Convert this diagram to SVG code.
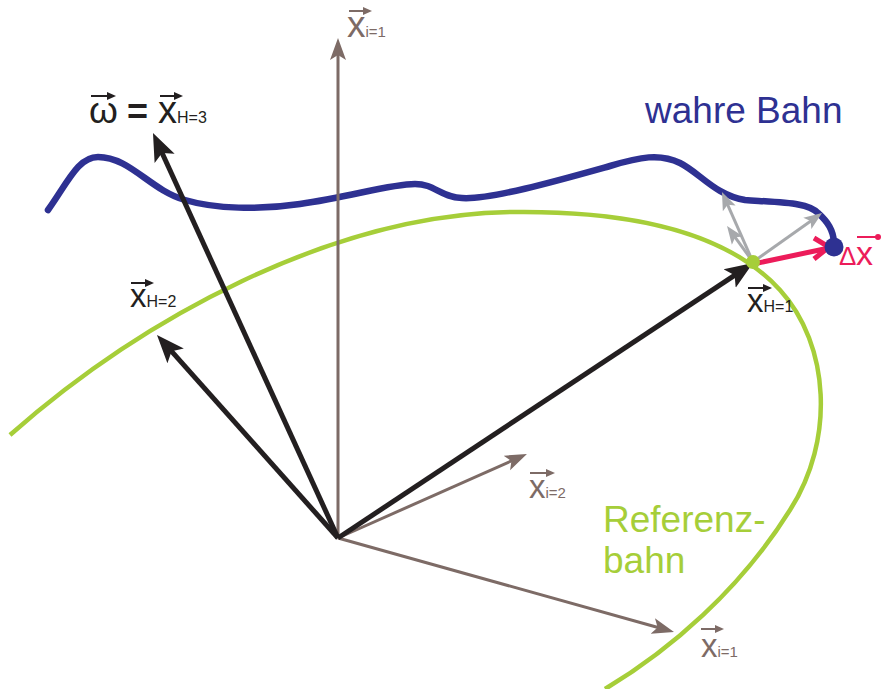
<svg xmlns="http://www.w3.org/2000/svg" width="883" height="689" viewBox="0 0 883 689">
<style>
text{font-family:"Liberation Sans",Arial,sans-serif}
.blk{fill:#231f20}.brn{fill:#7d6b66}.red{fill:#ec1c5a}
.v{font-size:33px}.s{font-size:15px}
.ab{stroke:#231f20;stroke-width:5;fill:none}
.ar{stroke:#7d6b66;stroke-width:3;fill:none}
.ag{stroke:#a7a9ac;stroke-width:3;fill:none}
.ov{stroke-width:2;fill:none}
</style>
<defs>
<marker id="mb" markerUnits="userSpaceOnUse" viewBox="0 -12 30 24" markerWidth="30" markerHeight="24" refX="14" refY="0" orient="auto"><path d="M0,-11 L28,0 L0,11 L6,0 z" fill="#231f20"/></marker>
<marker id="mr" markerUnits="userSpaceOnUse" viewBox="0 -9 24 18" markerWidth="24" markerHeight="18" refX="11" refY="0" orient="auto"><path d="M0,-8 L22,0 L0,8 L5,0 z" fill="#7d6b66"/></marker>
<marker id="mg" markerUnits="userSpaceOnUse" viewBox="0 -8 20 16" markerWidth="20" markerHeight="16" refX="9" refY="0" orient="auto"><path d="M0,-7 L18,0 L0,7 L4,0 z" fill="#a7a9ac"/></marker>
<marker id="vk" markerUnits="userSpaceOnUse" viewBox="0 -4 9 8" markerWidth="9" markerHeight="8" refX="3" refY="0" orient="auto"><path d="M0,-4 L9,0 L0,4 z" fill="#231f20"/></marker>
<marker id="vb" markerUnits="userSpaceOnUse" viewBox="0 -4 9 8" markerWidth="9" markerHeight="8" refX="3" refY="0" orient="auto"><path d="M0,-4 L9,0 L0,4 z" fill="#7d6b66"/></marker>
<marker id="vr" markerUnits="userSpaceOnUse" viewBox="-4 -4 8 8" markerWidth="8" markerHeight="8" refX="0" refY="0" orient="auto"><circle r="3" fill="#ec1c5a"/></marker>
</defs>

<g id="referenzbahn">
<path d="M10,435 C140,320 330,215 510,212 C640,210 730,235 780,290 C830,345 835,440 790,510 C740,590 670,650 605,689" fill="none" stroke="#a6ce39" stroke-width="4.5"/>
<text x="603" y="532" font-size="37" fill="#a6ce39">Referenz-</text>
<text x="603" y="573" font-size="37" fill="#a6ce39">bahn</text>
</g>

<g id="wahre-bahn">
<path d="M48,210 C68,182 78,157 98,157 C130,157 150,190 185,200 C215,209 260,210 300,204 C350,197 390,184 415,184 C435,184 440,197 462,198 C490,200 560,180 610,166 C640,157 660,153 680,163 C700,173 715,195 745,200 C790,203 808,203 818,213 C828,222 833,230 834,242" fill="none" stroke="#2e3192" stroke-width="6.5" stroke-linecap="round"/>
<text x="645" y="123" font-size="37" fill="#2e3192">wahre Bahn</text>
</g>

<g id="connectors">
<line class="ar" x1="338" y1="538" x2="338" y2="49" marker-end="url(#mr)"/>
<line class="ar" x1="338" y1="538" x2="516.9" y2="458.5" marker-end="url(#mr)"/>
<line class="ar" x1="338" y1="538" x2="663.4" y2="629" marker-end="url(#mr)"/>
<line class="ab" x1="338" y1="538" x2="158.8" y2="145.7" marker-end="url(#mb)"/>
<line class="ab" x1="338" y1="538" x2="166.3" y2="345.4" marker-end="url(#mb)"/>
<line class="ab" x1="338" y1="538" x2="741.3" y2="270.8" marker-end="url(#mb)"/>
<line class="ag" x1="753" y1="262" x2="725.6" y2="200.2" marker-end="url(#mg)"/>
<line class="ag" x1="753" y1="262" x2="732.3" y2="233.3" marker-end="url(#mg)"/>
<line class="ag" x1="753" y1="262" x2="814.7" y2="218.2" marker-end="url(#mg)"/>
<line x1="753" y1="264" x2="829" y2="248" stroke="#ec1c5a" stroke-width="5"/>
<polyline points="814,238 829,247 814,259" fill="none" stroke="#ec1c5a" stroke-width="5"/>
</g>

<g id="points">
<circle cx="753" cy="262" r="7" fill="#a6ce39"/>
<circle cx="834" cy="247" r="9.5" fill="#2e3192"/>
</g>

<g id="label-xi1-top">
<text class="brn" x="347" y="37" font-size="37">x<tspan class="s">i=1</tspan></text>
<line class="ov" stroke="#7d6b66" x1="349" y1="11" x2="366" y2="11" marker-end="url(#vb)"/>
</g>

<g id="label-omega">
<text class="blk" x="89" y="123" font-size="37">ω</text>
<text class="blk" x="127" y="124" font-size="36" font-weight="bold">=</text>
<text class="blk" x="158" y="123" font-size="38">x<tspan font-size="16">H=3</tspan></text>
<line class="ov" stroke="#231f20" x1="91" y1="96" x2="110" y2="96" marker-end="url(#vk)"/>
<line class="ov" stroke="#231f20" x1="160" y1="96" x2="177" y2="96" marker-end="url(#vk)"/>
</g>

<g id="label-xH2">
<text class="blk v" x="130" y="307">x<tspan font-size="16">H=2</tspan></text>
<line class="ov" stroke="#231f20" x1="131" y1="283" x2="148" y2="283" marker-end="url(#vk)"/>
</g>

<g id="label-xH1">
<text class="blk v" x="747" y="312">x<tspan font-size="16">H=1</tspan></text>
<line class="ov" stroke="#231f20" x1="748" y1="288" x2="766" y2="288" marker-end="url(#vk)"/>
</g>

<g id="label-xi2">
<text class="brn v" x="529" y="498">x<tspan class="s">i=2</tspan></text>
<line class="ov" stroke="#7d6b66" x1="530" y1="473" x2="549" y2="473" marker-end="url(#vb)"/>
</g>

<g id="label-xi1-bottom">
<text class="brn v" x="701" y="657">x<tspan class="s">i=1</tspan></text>
<line class="ov" stroke="#7d6b66" x1="701" y1="629" x2="718" y2="629" marker-end="url(#vb)"/>
</g>

<g id="label-dx">
<text class="red" x="839" y="265" font-size="26">Δ</text>
<text class="red" x="856" y="265" font-size="34">x</text>
<line class="ov" stroke="#ec1c5a" x1="857" y1="237" x2="878" y2="237" marker-end="url(#vr)"/>
</g>
</svg>
